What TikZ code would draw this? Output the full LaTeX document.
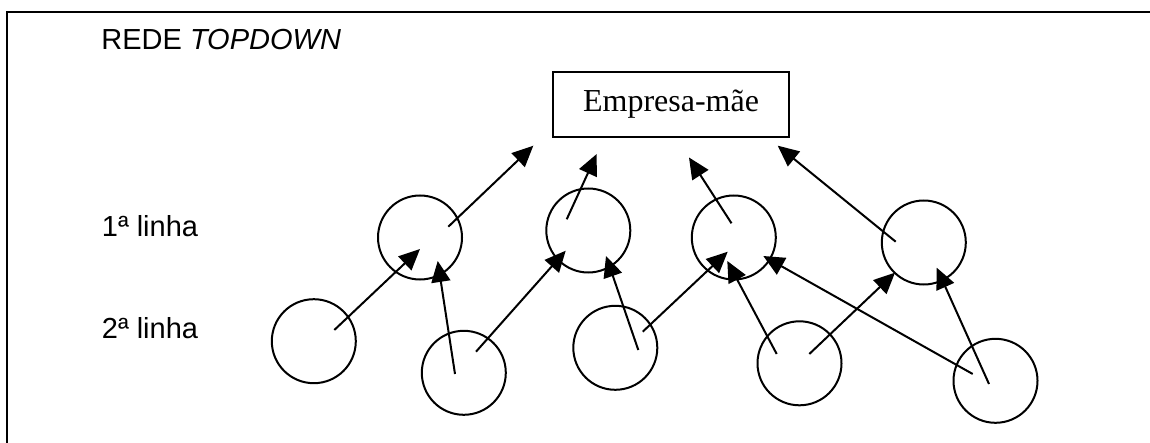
\documentclass[tikz,border=0pt]{standalone}
\usepackage{fontspec}
\setmainfont{Liberation Serif}
\newfontfamily\labelfont{Liberation Sans}
\usetikzlibrary{arrows.meta}
\begin{document}
\begin{tikzpicture}[x=0.5pt,y=-0.5pt,
  frame/.style={line width=1pt},
  lbl/.style={anchor=base west,inner sep=0pt,font=\labelfont\fontsize{14.5pt}{17pt}\selectfont},
  firm/.style={draw,line width=0.8pt,rectangle,minimum width=118pt,minimum height=32.5pt,inner sep=0pt,
    font=\fontsize{16pt}{19pt}\selectfont},
  unit/.style={draw,circle,line width=1pt,minimum size=42pt,inner sep=0pt},
  conn/.style={line width=1pt,-{Triangle[length=10.5pt,width=9.5pt]}}]
  \useasboundingbox (0,0) rectangle (1150,443);
  % outer frame: top and left edges only
  \draw[frame] (1150,12) -- (7,12) -- (7,443);
  % labels
  \node[lbl] (title) at (101,50) {REDE \textit{TOPDOWN}};
  \node[lbl] (row1) at (101.5,236) {1ª linha};
  \node[lbl] (row2) at (101.5,338) {2ª linha};
  % parent company
  \node[firm] (mae) at (671,104.5) {Empresa-mãe};
  % first line
  \node[unit] (c1) at (420,237.5) {};
  \node[unit] (c2) at (588.3,230.5) {};
  \node[unit] (c3) at (733.8,237.5) {};
  \node[unit] (c4) at (923.8,242.5) {};
  % second line
  \node[unit] (d1) at (313.8,341.2) {};
  \node[unit] (d2) at (463.8,372.8) {};
  \node[unit] (d3) at (615.3,347.8) {};
  \node[unit] (d4) at (799.5,363.3) {};
  \node[unit] (d5) at (995.5,380.8) {};
  % free arrow ends below the parent company
  \coordinate (t1) at ([shift={(-137.7,41.2)}]mae.center);
  \coordinate (t2) at ([shift={(-74.3,49.5)}]mae.center);
  \coordinate (t3) at ([shift={(18,53)}]mae.center);
  \coordinate (t4) at ([shift={(106.7,41.2)}]mae.center);
  % first line towards the parent company
  \draw[conn] ([shift={(28.3,-10.8)}]c1.center) -- (t1);
  \draw[conn] ([shift={(-21.6,-11.2)}]c2.center) -- (t2);
  \draw[conn] ([shift={(-2.3,-14.2)}]c3.center) -- (t3);
  \draw[conn] ([shift={(-28.1,-0.8)}]c4.center) -- (t4);
  % second line towards the first line
  \draw[conn] ([shift={(20.5,-11.2)}]d1.center) -- ([shift={(0,11.5)}]c1.center);
  \draw[conn] ([shift={(-8.8,1.2)}]d2.center) -- ([shift={(17.7,23.5)}]c1.center);
  \draw[conn] ([shift={(12.2,-21.1)}]d2.center) -- ([shift={(-22.6,20.2)}]c2.center);
  \draw[conn] ([shift={(23,2.2)}]d3.center) -- ([shift={(17.7,25.5)}]c2.center);
  \draw[conn] ([shift={(27.4,-16.1)}]d3.center) -- ([shift={(-6.1,14.2)}]c3.center);
  \draw[conn] ([shift={(-22.8,-9.3)}]d4.center) -- ([shift={(-6.5,23.5)}]c3.center);
  \draw[conn] ([shift={(-22.8,-6.8)}]d5.center) -- ([shift={(29.5,18.5)}]c3.center);
  \draw[conn] ([shift={(9.8,-9.3)}]d4.center) -- ([shift={(-28.8,30.2)}]c4.center);
  \draw[conn] ([shift={(-6.5,3.2)}]d5.center) -- ([shift={(12.9,25.2)}]c4.center);
\end{tikzpicture}
\end{document}
